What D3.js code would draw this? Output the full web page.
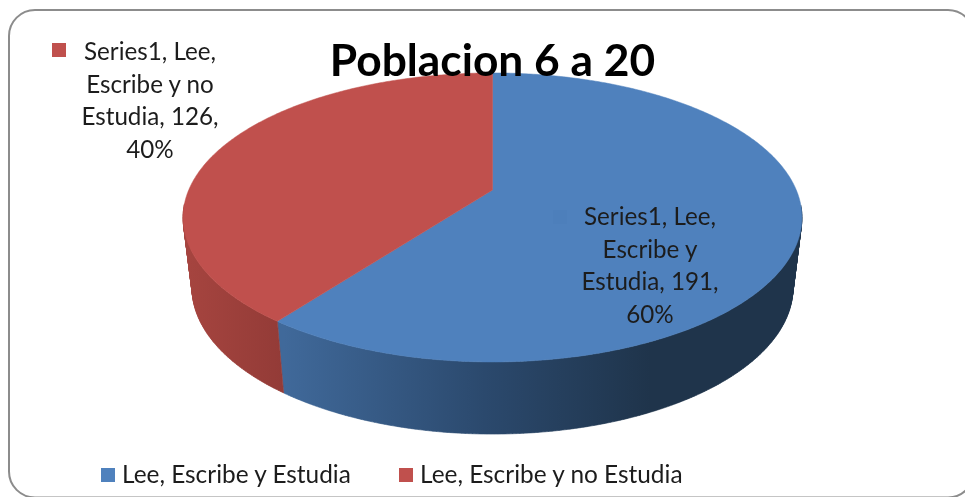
<!DOCTYPE html>
<html>
<head>
  <meta charset="utf-8">
  <script src="https://d3js.org/d3.v7.min.js"></script>
  <title>Poblacion 6 a 20</title>
  <style>
    html, body { margin: 0; padding: 0; background: #fff; overflow: hidden; }
    svg { filter: blur(0.45px); }
    text { font-family: Lato, "Open Sans", sans-serif; fill: #1c1c1c; }
  </style>
</head>
<body>
<script>
var categories = ["Lee, Escribe y Estudia", "Lee, Escribe y no Estudia"];
var values = [191, 126];
var percents = ["60%", "40%"];
var seriesName = "Series1";
var title = "Poblacion 6 a 20";

var width = 965, height = 497;

var topColors = ["#4f81bd", "#c0504d"];
// side wall shading, light to dark going along the rim
var sideStops = [
  [[0, "#a5443f"], [1, "#933b37"]],
  [[0, "#40699a"], [0.55, "#2b496d"], [1, "#1f344b"]]
];

var svg = d3.select("body").append("svg")
  .attr("width", width)
  .attr("height", height)
  .style("display", "block");

var defs = svg.append("defs");

// the frame runs a bit past the right edge of the picture
svg.append("rect")
  .attr("x", 9).attr("y", 10)
  .attr("width", 965).attr("height", 487.5)
  .attr("rx", 26).attr("ry", 26)
  .attr("fill", "#fff")
  .attr("stroke", "#8c8c8c")
  .attr("stroke-width", 2);

// tilted disc: unit circle pushed through a perspective, so the pie
// centre sits above the middle of the ellipse like in the 3d chart
var tilt = 0.19;
var topFace = {x: 492.5, y: 190, a: 303.8, b: 139.3};
var bottomFace = {x: 492.5, y: 260, a: 295, b: 141};

function project(face, angle) {
  var u = Math.sin(angle), v = -Math.cos(angle);
  var w = 1 - tilt * v;
  return [face.x + face.a * u / w, face.y + face.b * v / w];
}

function anglesOf(d) {
  var n = Math.ceil((d.endAngle - d.startAngle) / 0.01);
  return d3.range(n + 1).map(function(i) {
    return d.startAngle + (d.endAngle - d.startAngle) * i / n;
  });
}

var pie = d3.pie().sort(null).value(function(d) { return d; });
var slices = pie(values);

function wallPath(d) {
  var a = anglesOf(d), p = d3.path();
  for (var i = 0; i < a.length - 1; i++) {
    // the back of the rim is hidden, no wall there
    if (-Math.cos(a[i]) < 0.1) continue;
    var quad = [
      project(topFace, a[i]), project(topFace, a[i + 1]),
      project(bottomFace, a[i + 1]), project(bottomFace, a[i])
    ];
    // keep every quad wound the same way or overlaps cancel out when filled
    if (d3.polygonArea(quad) < 0) quad.reverse();
    p.moveTo(quad[0][0], quad[0][1]);
    p.lineTo(quad[1][0], quad[1][1]);
    p.lineTo(quad[2][0], quad[2][1]);
    p.lineTo(quad[3][0], quad[3][1]);
    p.closePath();
  }
  return p.toString();
}

var line = d3.line();

function facePath(d) {
  var pts = anglesOf(d).map(function(a) { return project(topFace, a); });
  pts.push([topFace.x, topFace.y]);
  return line(pts) + "Z";
}

// gradients run along x, over the visible front of each wall
var boundary = project(bottomFace, slices[0].endAngle)[0];
var gradRange = [[boundary, 650], [190, boundary]];
var gradOrder = [1, 0];
slices.forEach(function(d, i) {
  var g = defs.append("linearGradient")
    .attr("id", "side" + i)
    .attr("gradientUnits", "userSpaceOnUse")
    .attr("x1", gradRange[i][0]).attr("x2", gradRange[i][1])
    .attr("y1", 0).attr("y2", 0);
  g.selectAll("stop")
    .data(sideStops[gradOrder[i]])
    .enter().append("stop")
    .attr("offset", function(s) { return s[0]; })
    .attr("stop-color", function(s) { return s[1]; });
});

svg.selectAll(".wall")
  .data(slices)
  .enter().append("path")
  .attr("class", "wall")
  .attr("d", wallPath)
  .attr("fill", function(d, i) { return "url(#side" + i + ")"; })
  .attr("stroke", function(d, i) { return "url(#side" + i + ")"; })
  .attr("stroke-width", 0.6);

svg.selectAll(".face")
  .data(slices)
  .enter().append("path")
  .attr("class", "face")
  .attr("d", facePath)
  .attr("fill", function(d, i) { return topColors[i]; })
  .attr("stroke", function(d, i) { return topColors[i]; })
  .attr("stroke-width", 0.5);

// title
svg.append("text")
  .attr("x", 492.5).attr("y", 76)
  .attr("text-anchor", "middle")
  .attr("font-size", 44.3)
  .attr("font-weight", 700)
  .style("fill", "#000")
  .text(title);

// data labels with their legend key
var labelLines = [
  [seriesName + ", Lee,", "Escribe y", "Estudia, " + values[0] + ",", percents[0]],
  [seriesName + ", Lee,", "Escribe y no", "Estudia, " + values[1] + ",", percents[1]]
];
var labelPos = [{x: 650, y: 225, kx: 553, ky: 210}, {x: 150, y: 60, kx: 52, ky: 43}];

labelLines.forEach(function(lines, i) {
  var pos = labelPos[i];
  svg.append("rect")
    .attr("x", pos.kx).attr("y", pos.ky)
    .attr("width", 14).attr("height", 14)
    .attr("fill", i === 0 ? "#4d7fbb" : topColors[i]);
  svg.append("g").selectAll("text")
    .data(lines)
    .enter().append("text")
    .attr("x", pos.x)
    .attr("y", function(d, j) { return pos.y + j * 32.5; })
    .attr("text-anchor", "middle")
    .attr("font-size", 24.2)
    .text(function(d) { return d; });
});

// bottom legend
var legendX = [101, 399];
var legend = svg.selectAll(".legend")
  .data(categories)
  .enter().append("g")
  .attr("class", "legend")
  .attr("transform", function(d, i) { return "translate(" + legendX[i] + ",468)"; });

legend.append("rect")
  .attr("width", 14).attr("height", 14)
  .attr("fill", function(d, i) { return topColors[i]; });

legend.append("text")
  .attr("x", 21).attr("y", 15)
  .attr("font-size", 24.4)
  .text(function(d) { return d; });
</script>
</body>
</html>
